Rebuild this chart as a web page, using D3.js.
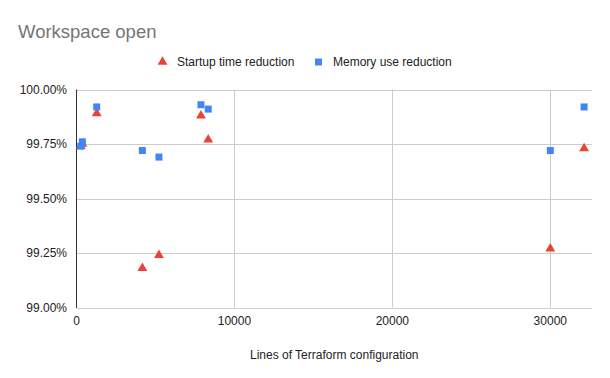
<!DOCTYPE html>
<html>
<head>
<meta charset="utf-8">
<script src="https://cdn.jsdelivr.net/npm/d3@7"></script>
<style>
  body { margin: 0; background: #fff; }
  text { font-family: "Liberation Sans", Arial, sans-serif; }
</style>
</head>
<body>
<div id="chart"></div>
<script>
var width = 610;
var height = 378;

// lines of config per workspace
var linesOfConfig = [270, 370, 1280, 4170, 5220, 7880, 8340, 30000, 32140];
var startupReduction = [99.74, 99.75, 99.89, 99.18, 99.24, 99.88, 99.77, 99.27, 99.73];
var memoryReduction = [99.74, 99.76, 99.92, 99.72, 99.69, 99.93, 99.91, 99.72, 99.92];
var yTicks = [99.0, 99.25, 99.5, 99.75, 100.0];
var xTicks = [0, 10000, 20000, 30000];

var red = "#ea4335";
var blue = "#4285f4";

// plot area
var pLeft = 76.5, pRight = 592, pTop = 89.5, pBottom = 307.5;

const svg = d3.select("#chart").append("svg")
    .attr("width", width)
    .attr("height", height);

var x = d3.scaleLinear().domain([0, 32640]).range([pLeft, pRight]);
var y = d3.scaleLinear().domain([99, 100]).range([pBottom, pTop]);

// title
svg.append("text")
    .attr("x", 18)
    .attr("y", 38)
    .attr("font-size", 18.5)
    .attr("fill", "#757575")
    .text("Workspace open");

// grid lines
svg.append("g")
    .selectAll("line")
    .data(yTicks.filter(d => d > 99))
    .join("line")
    .attr("x1", pLeft).attr("x2", pRight)
    .attr("y1", d => Math.round(y(d)) + 0.5)
    .attr("y2", d => Math.round(y(d)) + 0.5)
    .attr("stroke", "#cccccc");

svg.append("g")
    .selectAll("line")
    .data(xTicks.filter(d => d > 0))
    .join("line")
    .attr("x1", d => Math.round(x(d)) + 0.5)
    .attr("x2", d => Math.round(x(d)) + 0.5)
    .attr("y1", pTop).attr("y2", pBottom)
    .attr("stroke", "#cccccc");

// baseline (bottom) and left axis line
svg.append("line")
    .attr("x1", pLeft).attr("x2", pRight)
    .attr("y1", Math.round(y(99)) + 0.5).attr("y2", Math.round(y(99)) + 0.5)
    .attr("stroke", "#cccccc");
svg.append("line")
    .attr("x1", pLeft).attr("x2", pLeft)
    .attr("y1", pTop).attr("y2", pBottom + 0.5)
    .attr("stroke", "#333333");

// tick labels
svg.append("g")
    .attr("font-size", 12)
    .attr("fill", "#222")
    .attr("text-anchor", "end")
    .selectAll("text")
    .data(yTicks)
    .join("text")
    .attr("x", 67)
    .attr("y", d => y(d) + 4)
    .text(d => d3.format(".2f")(d) + "%");

svg.append("g")
    .attr("font-size", 12)
    .attr("fill", "#222")
    .attr("text-anchor", "middle")
    .selectAll("text")
    .data(xTicks)
    .join("text")
    .attr("x", d => x(d))
    .attr("y", 325)
    .text(d => d);

// axis title
svg.append("text")
    .attr("x", (pLeft + pRight) / 2)
    .attr("y", 359)
    .attr("font-size", 12)
    .attr("fill", "#222")
    .attr("text-anchor", "middle")
    .text("Lines of Terraform configuration");

var tri = d3.symbol().type(d3.symbolTriangle).size(42);

// startup time reduction (triangles)
svg.append("g")
    .selectAll("path")
    .data(linesOfConfig)
    .join("path")
    .attr("d", tri)
    .attr("transform", (d, i) => "translate(" + x(d) + "," + y(startupReduction[i]) + ")")
    .attr("fill", red);

// memory use reduction (squares)
svg.append("g")
    .selectAll("rect")
    .data(linesOfConfig)
    .join("rect")
    .attr("x", d => x(d) - 3.5)
    .attr("y", (d, i) => y(memoryReduction[i]) - 3.5)
    .attr("width", 7)
    .attr("height", 7)
    .attr("fill", blue);

// legend
const legend = svg.append("g").attr("font-size", 12).attr("fill", "#222");
legend.append("path")
    .attr("d", tri)
    .attr("transform", "translate(162.5,62)")
    .attr("fill", red);
legend.append("text")
    .attr("x", 177)
    .attr("y", 66)
    .text("Startup time reduction");
legend.append("rect")
    .attr("x", 315).attr("y", 58.5)
    .attr("width", 7).attr("height", 7)
    .attr("fill", blue);
legend.append("text")
    .attr("x", 333)
    .attr("y", 66)
    .text("Memory use reduction");
</script>
</body>
</html>
